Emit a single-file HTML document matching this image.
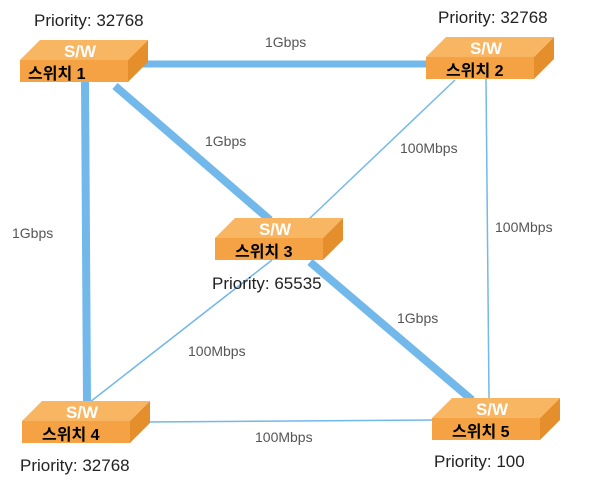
<!DOCTYPE html>
<html><head><meta charset="utf-8"><style>
body{margin:0;background:#fff}
text{font-family:"Liberation Sans","Noto Sans CJK KR",sans-serif}
</style></head><body>
<svg width="601" height="484" xmlns="http://www.w3.org/2000/svg">
<g stroke="#72b8ea" fill="none">
<line x1="140" y1="64" x2="430" y2="64" stroke-width="7"/>
<line x1="85" y1="80" x2="87" y2="402" stroke-width="8"/>
<line x1="115" y1="86" x2="270" y2="220" stroke-width="8"/>
<line x1="310" y1="262" x2="472" y2="400" stroke-width="8"/>
<line x1="455" y1="80" x2="308" y2="220" stroke-width="1.5"/>
<line x1="486" y1="78" x2="489" y2="398" stroke-width="1.5"/>
<line x1="272" y1="260" x2="90" y2="402" stroke-width="1.5"/>
<line x1="145" y1="422" x2="435" y2="420" stroke-width="1.5"/>
</g>
<defs>
<g id="sw">
<polygon points="0,20 20,0 128,0 108,20" fill="#f8b562"/>
<polygon points="108,20 128,0 128,22 108,42" fill="#e58f2c"/>
<rect x="0" y="20" width="108" height="22" fill="#f4a244"/>
<text x="60" y="17" fill="#fff" font-size="17" font-weight="bold" text-anchor="middle">S/W</text>
</g>
</defs>
<use href="#sw" x="20" y="40"/><text x="28" y="79" font-size="16" font-weight="bold">스위치 1</text>
<use href="#sw" x="426" y="37"/><text x="446" y="76" font-size="16" font-weight="bold">스위치 2</text>
<use href="#sw" x="215" y="218"/><text x="235" y="257" font-size="16" font-weight="bold">스위치 3</text>
<use href="#sw" x="22" y="401"/><text x="42" y="440" font-size="16" font-weight="bold">스위치 4</text>
<use href="#sw" x="432" y="398"/><text x="452" y="437" font-size="16" font-weight="bold">스위치 5</text>
<g font-size="17" fill="#222">
<text x="34" y="26">Priority: 32768</text>
<text x="438" y="23">Priority: 32768</text>
<text x="212" y="289">Priority: 65535</text>
<text x="20" y="471">Priority: 32768</text>
<text x="434" y="467">Priority: 100</text>
</g>
<g font-size="14" fill="#555">
<text x="265" y="47">1Gbps</text>
<text x="205" y="146">1Gbps</text>
<text x="12" y="238">1Gbps</text>
<text x="400" y="153">100Mbps</text>
<text x="495" y="232">100Mbps</text>
<text x="397" y="323">1Gbps</text>
<text x="188" y="356">100Mbps</text>
<text x="255" y="442">100Mbps</text>
</g>
</svg>
</body></html>
